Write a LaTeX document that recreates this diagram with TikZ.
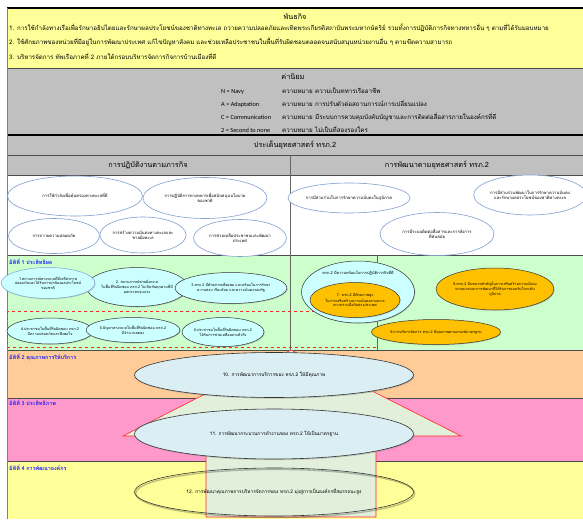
\documentclass[tikz,border=0pt]{standalone}
\usepackage{fontspec}
\setmainfont[Script=Thai]{Loma}
\newfontfamily\latinfont{Carlito}
\usetikzlibrary{shapes.geometric,shadows}
\definecolor{missionyellow}{HTML}{FFFF99}
\definecolor{valuegray}{HTML}{C0C0C0}
\definecolor{dimgreen}{HTML}{CCFFCC}
\definecolor{dimorange}{HTML}{FFCC99}
\definecolor{dimpink}{HTML}{FF99CC}
\definecolor{ovalblue}{HTML}{7F9FCF}
\definecolor{ovalcyan}{HTML}{CCFFFF}
\definecolor{ovalgold}{HTML}{FFC000}
\definecolor{ovalsky}{HTML}{DAEEF3}
\definecolor{arrowfill}{HTML}{E2EFDA}
\definecolor{dimblue}{HTML}{1F1FFF}
\begin{document}
\begin{tikzpicture}
[x=1pt,y=-1pt,
  bandline/.style={draw=black!70,line width=0.9pt},
  plaintext/.style={inner sep=0pt,font=\fontsize{6.2}{7}\selectfont},
  headtext/.style={inner sep=0pt,font=\fontsize{7.3}{8}\selectfont},
  dimtext/.style={inner sep=0pt,anchor=west,text=dimblue,font=\fontsize{5.4}{6}\selectfont\bfseries},
  goaloval/.style={shape=ellipse,inner sep=0pt,align=center,draw=ovalblue,fill=white,
    line width=0.6pt,font=\fontsize{4.2}{5.2}\selectfont},
  resultoval/.style={shape=ellipse,inner sep=0pt,align=center,draw=black!80,fill=ovalcyan,
    line width=0.5pt,font=\fontsize{3.7}{4.7}\selectfont,
    drop shadow={opacity=0.35,shadow xshift=0.8pt,shadow yshift=-0.8pt}},
  goldoval/.style={resultoval,fill=ovalgold},
  wideoval/.style={shape=ellipse,inner sep=0pt,align=center,draw=black!80,
    line width=0.6pt,font=\fontsize{4.8}{5.5}\selectfont},
  skyoval/.style={wideoval,fill=ovalsky,
    drop shadow={opacity=0.35,shadow xshift=1pt,shadow yshift=-1.2pt}},
  arrowshape/.style={draw=red!85,fill=arrowfill,line width=0.6pt}]
\useasboundingbox (0,0) rectangle (583,519);
%% bands
\fill[missionyellow] (7,8) rectangle (583,68);
\fill[valuegray] (7,68) rectangle (583,175);
\fill[white] (7,175) rectangle (583,255);
\fill[dimgreen] (7,255) rectangle (583,350);
\fill[dimorange] (7,350) rectangle (583,398);
\fill[dimpink] (7,398) rectangle (583,461);
\fill[missionyellow] (7,461) rectangle (583,519);
\foreach \y in {68,155,175,255,350,398,461} {
  \draw[bandline] (7,\y) -- (583,\y);
}
\draw[black,line width=1.4pt] (7,8) -- (583,8);
\draw[black,line width=1.4pt] (7,135) -- (583,135);
\draw[black!50,line width=0.5pt] (7,8) -- (7,519);
\draw[black!60,line width=0.6pt] (290,155) -- (290,350);
\draw[black!60,line width=0.6pt] (377,255) -- (377,350);
\draw[red!85,dashed,line width=0.5pt] (7,311) rectangle (377,347);
%% mission and values
\node[headtext] (mission) at (295,17) {พันธกิจ};
\node[plaintext,anchor=west] (mission1) at (9,28) {1. การใช้กำลังทางเรือเพื่อรักษาอธิปไตยและรักษาผลประโยชน์ของชาติทางทะเล ถวายความปลอดภัยและเทิดพระเกียรติสถาบันพระมหากษัตริย์ รวมทั้งการปฏิบัติภารกิจทางทหารอื่น ๆ ตามที่ได้รับมอบหมาย};
\node[plaintext,anchor=west] (mission2) at (9,42) {2. ใช้ศักยภาพของหน่วยที่มีอยู่ในการพัฒนาประเทศ แก้ไขปัญหาสังคม และช่วยเหลือประชาชนในพื้นที่รับผิดชอบตลอดจนสนับสนุนหน่วยงานอื่น ๆ ตามขีดความสามารถ};
\node[plaintext,anchor=west] (mission3) at (9,56) {3. บริหารจัดการ ทัพเรือภาคที่ 2 ภายใต้กรอบบริหารจัดการกิจการบ้านเมืองที่ดี};
\node[headtext] (values) at (293,77) {ค่านิยม};
\foreach \name/\y/\abbrev/\sense in {
  navy/93/{N = Navy}/{ความเป็นทหารเรืออาชีพ},
  adapt/106/{A = Adaptation}/{การปรับตัวต่อสถานการณ์การเปลี่ยนแปลง},
  comm/119/{C = Communication}/{มีระบบการควบคุมบังคับบัญชาและการติดต่อสื่อสารภายในองค์กรที่ดี},
  second/132/{2 = Second to none}/{ไม่เป็นที่สองรองใคร}} {
  \node[plaintext,anchor=base west,font=\latinfont\fontsize{6.3}{7}\selectfont] (\name) at (221,\y) {\abbrev};
  \node[plaintext,anchor=base west] (\name word) at (282,\y) {ความหมาย};
  \node[plaintext,anchor=base west] at (\name word.base east) {\ \sense};
}
\node[headtext] (issue) at (295,145) {ประเด็นยุทธศาสตร์ ทรภ.2};
\node[headtext] (mainwork) at (148,165) {การปฏิบัติงานตามภารกิจ};
\node[headtext] (strategy) at (437,165) {การพัฒนาตามยุทธศาสตร์ ทรภ.2};
%% dimension labels
\node[dimtext] (dim1) at (9,262) {มิติที่ 1 ประสิทธิผล};
\node[dimtext] (dim2) at (9,357) {มิติที่ 2 คุณภาพการให้บริการ};
\node[dimtext] (dim3) at (9,403) {มิติที่ 3 ประสิทธิภาพ};
\node[dimtext] (dim4) at (9,468) {มิติที่ 4 การพัฒนาองค์กร};
%% big arrow
\draw[arrowshape] (206,517) -- (206,436) -- (123,436) -- (291,350)
  -- (461,436) -- (376,436) -- (376,517) -- cycle;
%% goal ovals
\foreach \name/\x/\y/\w/\h/\txt in {
  m1/75/196/135/40/{การใช้กำลังเพื่อคุ้มครองทางทะเลที่ดี},
  m2/205/198/124/41/{การปฏิบัติการทางทหารเพื่อสนับสนุนนโยบาย\\ของชาติ},
  m3/54/236/91/35/{การถวายความปลอดภัย},
  m4/143/235/85/36/{การสร้างความมั่นคงทางทะเลและ\\ชายฝั่งทะเล},
  m5/240/238/93/37/{การช่วยเหลือประชาชนและพัฒนา\\ประเทศ},
  s1/349/198/113/30/{การมีส่วนร่วมในการรักษาความมั่นคงในภูมิภาค},
  s2/530/195/106/40/{การมีส่วนร่วมพัฒนาในการรักษาความมั่นคง\\และรักษาผลประโยชน์ของชาติทางทะเล},
  s3/437/234/114/43/{การมีระบบติดต่อสื่อสารและการสั่งการ\\ที่ทันสมัย}} {
  \node (\name) at (\x,\y) [goaloval,minimum width=\w pt,minimum height=\h pt] {\txt};
}
%% result ovals
\foreach \name/\x/\y/\w/\h/\txt in {
  r2/137/287/95/39/{2. สถานการณ์ชายฝั่งทะเล\\ในพื้นที่รับผิดชอบ ทรภ.2 ไม่เกิดภัยคุกคามที่มี\\ผลกระทบรุนแรง},
  r3/231/288/88/31/{3.ทรภ.2 มีศักยภาพเพียงพอ และพร้อมในการรักษา\\ความสงบ เรียบร้อย และความมั่นคงของรัฐ},
  r4/50/331/86/26/{4.ประชาชนในพื้นที่รับผิดชอบ ทรภ.2\\มีความปลอดภัยและพึงพอใจ},
  r5/133/330/77/25/{5.ปัญหาทางทะเลในพื้นที่รับผิดชอบ ทรภ.2\\มีจำนวนลดลง},
  r6/223/332/77/29/{6.ประชาชนในพื้นที่รับผิดชอบ ทรภ.2\\ได้รับการช่วยเหลืออย่างทั่วถึง}} {
  \node (\name) at (\x,\y) [resultoval,minimum width=\w pt,minimum height=\h pt] {\txt};
}
\node (r1) at (48,283) [resultoval,draw=ovalblue,minimum width=82pt,minimum height=31pt]
  {1.สถานการณ์ทางทะเลที่มีเสถียรภาพ\\ปลอดภัยและได้รับการปกป้องผลประโยชน์\\ของชาติ};
\node (ready) at (358,292) [resultoval,minimum width=113pt,minimum height=62pt] {};
\node[inner sep=0pt,font=\fontsize{3.9}{4.7}\selectfont] (readytext) at (358,273)
  {ทรภ.2 มีความพร้อมในการปฏิบัติภารกิจที่ดี};
\foreach \name/\x/\y/\w/\h/\txt in {
  r7/355/300/90/35/{7. ทรภ.2 มีศักยภาพสูง\\ในการเสริมสร้างความมั่นคงทางทะเล\\ความร่วมมือกับต่างประเทศ},
  r8/495/289/87/42/{8.ทรภ.2 มีบทบาทสำคัญในการเสริมสร้างความมั่นคง\\ทางทะเลและการพัฒนาที่ได้รับการยอมรับในระดับ\\ภูมิภาค},
  r9/436/332/102/25/{9.การบริหารจัดการ ทรภ.2 มีคุณภาพตามเกณฑ์มาตรฐาน}} {
  \node (\name) at (\x,\y) [goldoval,minimum width=\w pt,minimum height=\h pt] {\txt};
}
%% service, process and development ovals
\node (r10) at (274,375) [skyoval,minimum width=279pt,minimum height=45pt]
  {10. การพัฒนาการบริการของ ทรภ.2 ให้มีคุณภาพ};
\node (r11) at (274,434) [skyoval,minimum width=279pt,minimum height=50pt]
  {11. การพัฒนากระบวนการทำงานของ ทรภ.2 ให้เป็นมาตรฐาน};
\draw[black,opacity=0.25,line width=1.4pt] (275.2,493.4) ellipse (139.5pt and 24pt);
\node (r12) at (274,492) [wideoval,minimum width=279pt,minimum height=48pt]
  {12. การพัฒนาคุณภาพการบริหารจัดการของ ทรภ.2 มุ่งสู่การเป็นองค์กรที่สมรรถนะสูง};
\end{tikzpicture}
\end{document}
